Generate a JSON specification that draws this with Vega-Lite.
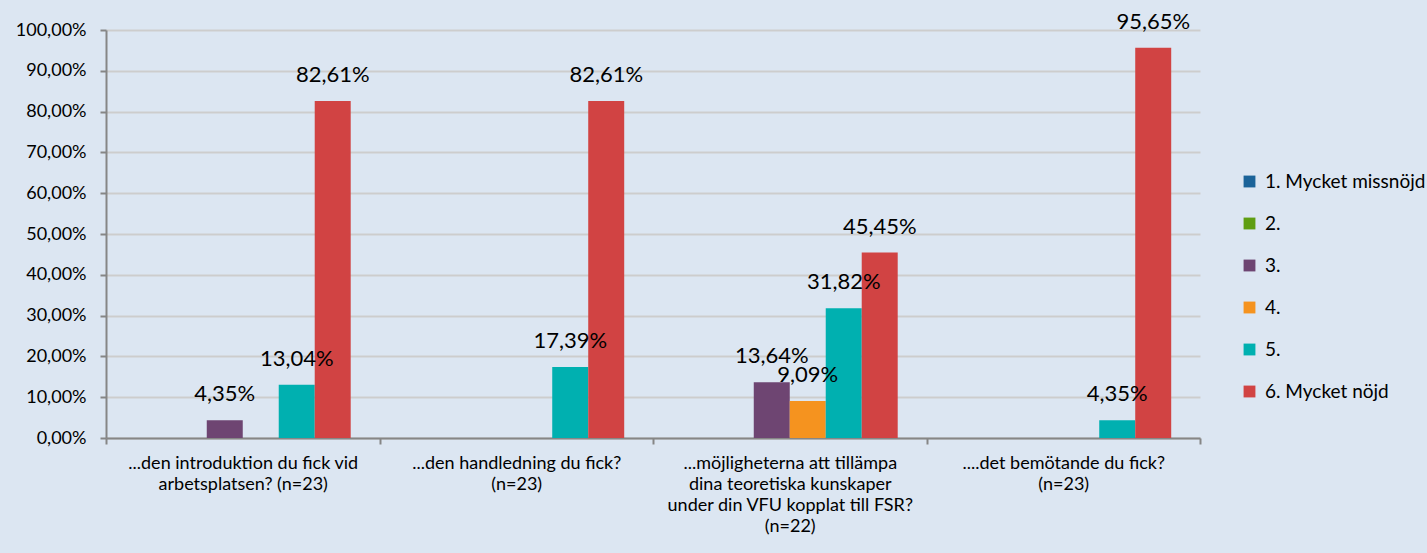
{
  "$schema": "https://vega.github.io/schema/vega-lite/v6.json",
  "width": 1094,
  "height": 408,
  "autosize": "none",
  "padding": {"left": 106, "top": 30, "right": 227, "bottom": 115},
  "background": "#dce6f2",
  "config": {
    "view": {"stroke": null},
    "font": "Lato",
    "locale": {"number": {"decimal": ",", "thousands": " ", "grouping": [3], "currency": ["", " kr"]}},
    "axis": {"labelFont": "Lato", "labelFontSize": 18, "labelColor": "#000000", "domainColor": "#868686", "tickColor": "#868686", "domainWidth": 2, "tickWidth": 2, "title": null}
  },
  "data": {"values": [
    {"q": "...den introduktion du fick vid|arbetsplatsen? (n=23)", "s": "3.", "v": 0.0435},
    {"q": "...den introduktion du fick vid|arbetsplatsen? (n=23)", "s": "5.", "v": 0.1304},
    {"q": "...den introduktion du fick vid|arbetsplatsen? (n=23)", "s": "6. Mycket nöjd", "v": 0.8261},
    {"q": "...den handledning du fick?|(n=23)", "s": "5.", "v": 0.1739},
    {"q": "...den handledning du fick?|(n=23)", "s": "6. Mycket nöjd", "v": 0.8261},
    {"q": "...möjligheterna att tillämpa|dina teoretiska kunskaper|under din VFU kopplat till FSR?|(n=22)", "s": "3.", "v": 0.1364},
    {"q": "...möjligheterna att tillämpa|dina teoretiska kunskaper|under din VFU kopplat till FSR?|(n=22)", "s": "4.", "v": 0.0909},
    {"q": "...möjligheterna att tillämpa|dina teoretiska kunskaper|under din VFU kopplat till FSR?|(n=22)", "s": "5.", "v": 0.3182},
    {"q": "...möjligheterna att tillämpa|dina teoretiska kunskaper|under din VFU kopplat till FSR?|(n=22)", "s": "6. Mycket nöjd", "v": 0.4545},
    {"q": "....det bemötande du fick?|(n=23)", "s": "5.", "v": 0.0435},
    {"q": "....det bemötande du fick?|(n=23)", "s": "6. Mycket nöjd", "v": 0.9565}
  ]},
  "encoding": {
    "x": {
      "field": "q", "type": "nominal",
      "scale": {"domain": ["...den introduktion du fick vid|arbetsplatsen? (n=23)", "...den handledning du fick?|(n=23)", "...möjligheterna att tillämpa|dina teoretiska kunskaper|under din VFU kopplat till FSR?|(n=22)", "....det bemötande du fick?|(n=23)"], "paddingInner": 0, "paddingOuter": 0},
      "axis": {"labelAngle": 0, "labelExpr": "split(datum.label, '|')", "labelLineHeight": 21, "labelPadding": 10, "tickBand": "extent", "tickSize": 6, "labelLimit": 400, "labelBaseline": "top"}
    },
    "xOffset": {
      "field": "s", "type": "nominal",
      "scale": {"domain": ["1. Mycket missnöjd", "2.", "3.", "4.", "5.", "6. Mycket nöjd"], "paddingInner": 0, "paddingOuter": 0.8}
    },
    "y": {
      "field": "v", "type": "quantitative",
      "scale": {"domain": [0, 1], "nice": false},
      "axis": {"values": [0, 0.1, 0.2, 0.3, 0.4, 0.5, 0.6, 0.7, 0.8, 0.9, 1], "format": ".2%", "grid": true, "gridColor": "#cdcdcd", "gridWidth": 2, "tickSize": 6, "labelPadding": 14}
    }
  },
  "layer": [
    {
      "mark": {"type": "bar"},
      "encoding": {
        "color": {
          "field": "s", "type": "nominal",
          "scale": {"domain": ["1. Mycket missnöjd", "2.", "3.", "4.", "5.", "6. Mycket nöjd"], "range": ["#1b6399", "#5f9e12", "#6e4572", "#f5931f", "#00b0b0", "#d14343"]},
          "legend": {"title": null, "orient": "none", "legendX": 1134, "legendY": 142, "symbolType": "square", "symbolSize": 140, "symbolStrokeWidth": 0, "labelFontSize": 19, "labelFont": "Lato", "labelColor": "#000000", "rowPadding": 22, "symbolOffset": 0, "labelOffset": 6, "labelLimit": 300}
        }
      }
    },
    {
      "mark": {"type": "text", "baseline": "alphabetic", "dy": -19, "fontSize": 22, "font": "Lato", "color": "#000000"},
      "encoding": {
        "text": {"field": "v", "type": "quantitative", "format": ".2%"}
      }
    }
  ]
}
